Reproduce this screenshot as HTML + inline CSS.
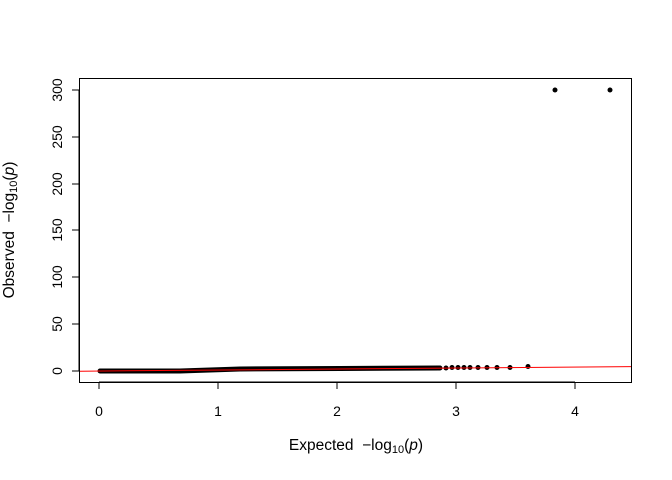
<!DOCTYPE html>
<html><head><style>body{margin:0;background:#fff}svg{display:block}text{font-family:"Liberation Sans",sans-serif;font-size:14px;fill:#000}.t{font-size:15.5px}</style></head>
<body>
<svg width="672" height="480" viewBox="0 0 672 480">
<rect x="79.5" y="78.5" width="552" height="304" fill="none" stroke="#000"/>
<g stroke="#000">
<line x1="99" y1="382" x2="575" y2="382"/>
<line x1="99" y1="382" x2="99" y2="389"/><line x1="218" y1="382" x2="218" y2="389"/><line x1="337" y1="382" x2="337" y2="389"/><line x1="456" y1="382" x2="456" y2="389"/><line x1="575" y1="382" x2="575" y2="389"/>
<line x1="79" y1="90" x2="79" y2="371"/>
<line x1="72" y1="371" x2="79" y2="371"/><line x1="72" y1="324" x2="79" y2="324"/><line x1="72" y1="277" x2="79" y2="277"/><line x1="72" y1="230" x2="79" y2="230"/><line x1="72" y1="184" x2="79" y2="184"/><line x1="72" y1="137" x2="79" y2="137"/><line x1="72" y1="90" x2="79" y2="90"/>
</g>
<g text-anchor="middle">
<text x="99" y="416">0</text><text x="218" y="416">1</text><text x="337" y="416">2</text><text x="456" y="416">3</text><text x="575" y="416">4</text>
</g>
<g text-anchor="middle">
<text transform="translate(62,371) rotate(-90)">0</text>
<text transform="translate(62,324) rotate(-90)">50</text>
<text transform="translate(62,277) rotate(-90)">100</text>
<text transform="translate(62,230) rotate(-90)">150</text>
<text transform="translate(62,184) rotate(-90)">200</text>
<text transform="translate(62,137) rotate(-90)">250</text>
<text transform="translate(62,90) rotate(-90)">300</text>
</g>
<text class="t" x="356" y="450" text-anchor="middle" xml:space="preserve">Expected  −log<tspan font-size="11" dy="3">10</tspan><tspan dy="-3">(</tspan><tspan font-style="italic">p</tspan>)</text>
<text class="t" transform="translate(14,230) rotate(-90)" text-anchor="middle" xml:space="preserve">Observed  −log<tspan font-size="11" dy="3">10</tspan><tspan dy="-3">(</tspan><tspan font-style="italic">p</tspan>)</text>
<polyline points="100,371 180,371 240,369 340,368.5 440,368" fill="none" stroke="#000" stroke-width="5" stroke-linecap="round"/>
<g fill="#000">
<circle cx="446" cy="368" r="2.5"/><circle cx="452" cy="367.5" r="2.5"/><circle cx="458" cy="367.5" r="2.5"/><circle cx="464" cy="367.5" r="2.5"/><circle cx="470" cy="367.5" r="2.5"/><circle cx="478" cy="367.5" r="2.5"/><circle cx="487" cy="367.5" r="2.5"/><circle cx="497" cy="367.5" r="2.5"/><circle cx="510" cy="367.5" r="2.5"/><circle cx="528" cy="366.5" r="2.5"/>
<circle cx="555" cy="90" r="2.5"/><circle cx="610" cy="90" r="2.5"/>
</g>
<line x1="80" y1="371.2" x2="631" y2="366.6" stroke="#f00" stroke-width="1"/>
</svg>
</body></html>
